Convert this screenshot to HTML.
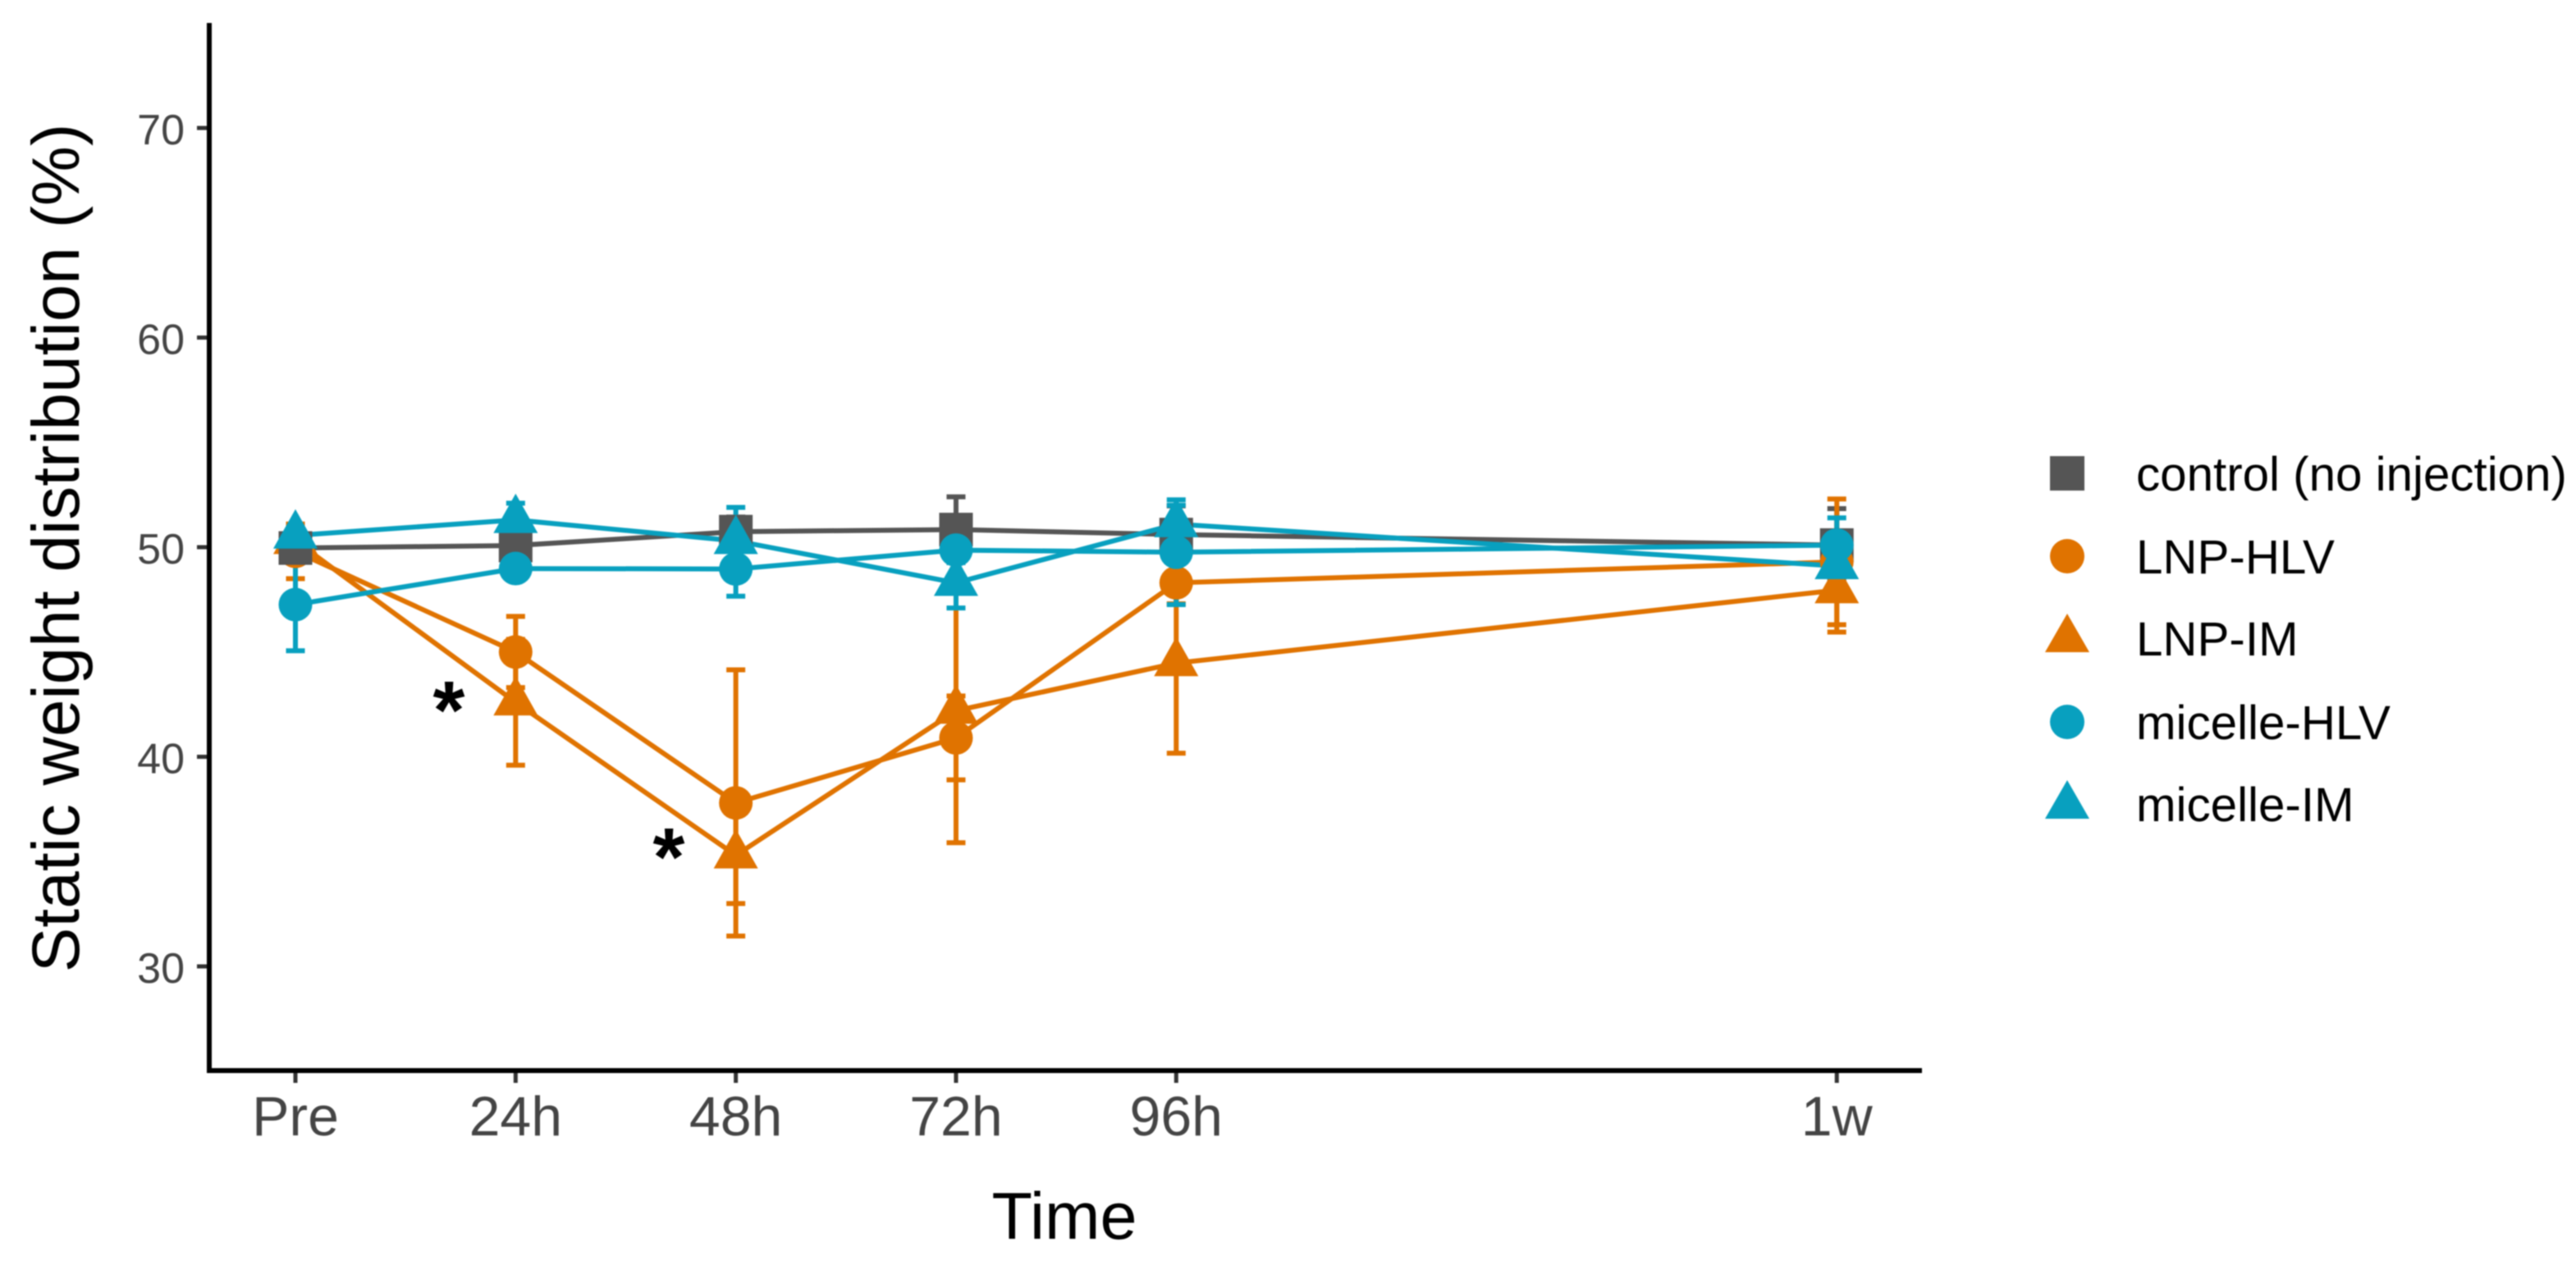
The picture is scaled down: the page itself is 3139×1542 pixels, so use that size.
<!DOCTYPE html>
<html lang="en">
<head>
<meta charset="utf-8">
<title>Static weight distribution over time</title>
<style>
html,body{margin:0;padding:0;background:#fff;}
svg{display:block;font-family:"Liberation Sans",Arial,sans-serif;filter:blur(0.7px);}
</style>
</head>
<body>
<svg id="chart" xmlns="http://www.w3.org/2000/svg" width="3139" height="1542" viewBox="0 0 3139 1542">
  <rect width="3139" height="1542" fill="#fff"/>
  <g id="errorbars"></g>
  <g id="lines"></g>
  <g id="points"></g>
  <g id="xticks"></g>
  <g id="yticks"></g>
  <line x1="255" y1="28" x2="255" y2="1308" stroke="#000" stroke-width="6"/>
  <line x1="252" y1="1305" x2="2342" y2="1305" stroke="#000" stroke-width="6"/>
  <text transform="translate(96,668) rotate(-90)" text-anchor="middle" font-size="82" fill="#000">Static weight distribution (%)</text>
  <text x="1297" y="1510" text-anchor="middle" font-size="81" fill="#000">Time</text>
  <text x="547" y="900" text-anchor="middle" font-size="100" font-weight="bold" fill="#000">*</text>
  <text x="815" y="1079" text-anchor="middle" font-size="100" font-weight="bold" fill="#000">*</text>
  <g font-size="58.3" fill="#000">
    <g>
      <rect x="2498" y="556" width="42" height="42" fill="#555555"/>
      <text x="2603" y="598">control (no injection)</text>
    </g>
    <g>
      <circle cx="2519" cy="678" r="21" fill="#E07300"/>
      <text x="2603" y="699">LNP-HLV</text>
    </g>
    <g>
      <polygon points="2492,795 2546,795 2519,748" fill="#E07300"/>
      <text x="2603" y="799">LNP-IM</text>
    </g>
    <g>
      <circle cx="2519" cy="880" r="21" fill="#08A0BF"/>
      <text x="2603" y="901">micelle-HLV</text>
    </g>
    <g>
      <polygon points="2492,998 2546,998 2519,951" fill="#08A0BF"/>
      <text x="2603" y="1001">micelle-IM</text>
    </g>
  </g>
</svg>
<script>
const timeHours = [0, 24, 48, 72, 96, 168];
const timeLabels = ["Pre", "24h", "48h", "72h", "96h", "1w"];
const yTickValues = [30, 40, 50, 60, 70];

const controlMeans = [49.96, 50.08, 50.74, 50.84, 50.6, 50.1];
const controlErrors = [0.5, 0.5, 0.7, 1.56, 1.37, 1.74];
const lnpHlvMeans = [49.8, 45.0, 37.8, 40.9, 48.3, 49.3];
const lnpHlvErrors = [1.3, 1.7, 6.35, 2.0, 1.0, 3.0];
const lnpImMeans = [50.3, 42.6, 35.3, 42.2, 44.47, 47.95];
const lnpImErrors = [0.8, 3.0, 2.3, 6.3, 4.3, 2.0];
const micelleHlvMeans = [47.26, 48.98, 48.96, 49.86, 49.76, 50.1];
const micelleHlvErrors = [2.2, 0.5, 1.3, 0.6, 2.5, 1.3];
const micelleImMeans = [50.56, 51.3, 50.3, 48.3, 51.1, 49.1];
const micelleImErrors = [0.3, 0.8, 1.6, 1.2, 0.9, 0.8];

const NS = "http://www.w3.org/2000/svg";
const GRAY = "#555555", ORANGE = "#E07300", BLUE = "#08A0BF";
const series = [
  {key: "control", means: controlMeans, errors: controlErrors, color: GRAY, shape: "square"},
  {key: "lnp-hlv", means: lnpHlvMeans, errors: lnpHlvErrors, color: ORANGE, shape: "circle"},
  {key: "lnp-im", means: lnpImMeans, errors: lnpImErrors, color: ORANGE, shape: "triangle"},
  {key: "micelle-hlv", means: micelleHlvMeans, errors: micelleHlvErrors, color: BLUE, shape: "circle"},
  {key: "micelle-im", means: micelleImMeans, errors: micelleImErrors, color: BLUE, shape: "triangle"}
];

function xScale(hours) { return 360 + hours * 11.18; }
function yScale(value) { return 667 - (value - 50) * 25.55; }
function make(tag, attrs, parent) {
  const el = document.createElementNS(NS, tag);
  for (const k in attrs) el.setAttribute(k, attrs[k]);
  parent.appendChild(el);
  return el;
}

const errorGroup = document.getElementById("errorbars");
const lineGroup = document.getElementById("lines");
const pointGroup = document.getElementById("points");
const xTickGroup = document.getElementById("xticks");
const yTickGroup = document.getElementById("yticks");

series.forEach(function (s) {
  s.means.forEach(function (m, i) {
    const x = xScale(timeHours[i]);
    const top = yScale(m + s.errors[i]);
    const bottom = yScale(m - s.errors[i]);
    const bar = make("path", {
      d: "M" + (x - 11.5) + " " + top + "H" + (x + 11.5) + "M" + x + " " + top + "V" + bottom + "M" + (x - 11.5) + " " + bottom + "H" + (x + 11.5),
      fill: "none", stroke: s.color, "stroke-width": 6
    }, errorGroup);
    
    
  });
});

series.forEach(function (s) {
  const pts = s.means.map(function (m, i) { return xScale(timeHours[i]) + "," + yScale(m); }).join(" ");
  const line = make("polyline", {points: pts, fill: "none", stroke: s.color, "stroke-width": 6}, lineGroup);
  
  
});

function drawPoint(s, i) {
  const x = xScale(timeHours[i]);
  const y = yScale(s.means[i]);
  let mark;
  if (s.shape === "square") {
    mark = make("rect", {x: x - 20.5, y: y - 20.5, width: 41, height: 41, fill: s.color}, pointGroup);
  } else if (s.shape === "circle") {
    mark = make("circle", {cx: x, cy: y, r: 20.5, fill: s.color}, pointGroup);
  } else {
    mark = make("polygon", {
      points: (x - 27) + "," + (y + 16) + " " + (x + 27) + "," + (y + 16) + " " + x + "," + (y - 32),
      fill: s.color
    }, pointGroup);
  }
  
  
}

timeHours.forEach(function (h, i) {
  const order = i === 0 ? [series[1], series[2], series[0], series[3], series[4]] : series;
  order.forEach(function (s) { drawPoint(s, i); });
});

timeHours.forEach(function (h, i) {
  const x = xScale(h);
  const tick = make("line", {x1: x, y1: 1305, x2: x, y2: 1320, stroke: "#333", "stroke-width": 5}, xTickGroup);
  
  
  const label = make("text", {x: x, y: 1384, "text-anchor": "middle", "font-size": 68, fill: "#444444"}, xTickGroup);
  label.textContent = timeLabels[i];
  
  
});

yTickValues.forEach(function (v) {
  const y = yScale(v);
  const tick = make("line", {x1: 240, y1: y, x2: 255, y2: y, stroke: "#333", "stroke-width": 5}, yTickGroup);
  
  
  const label = make("text", {x: 225, y: y + 20, "text-anchor": "end", "font-size": 52, fill: "#444444"}, yTickGroup);
  label.textContent = v;
  
  
});
</script>
</body>
</html>
